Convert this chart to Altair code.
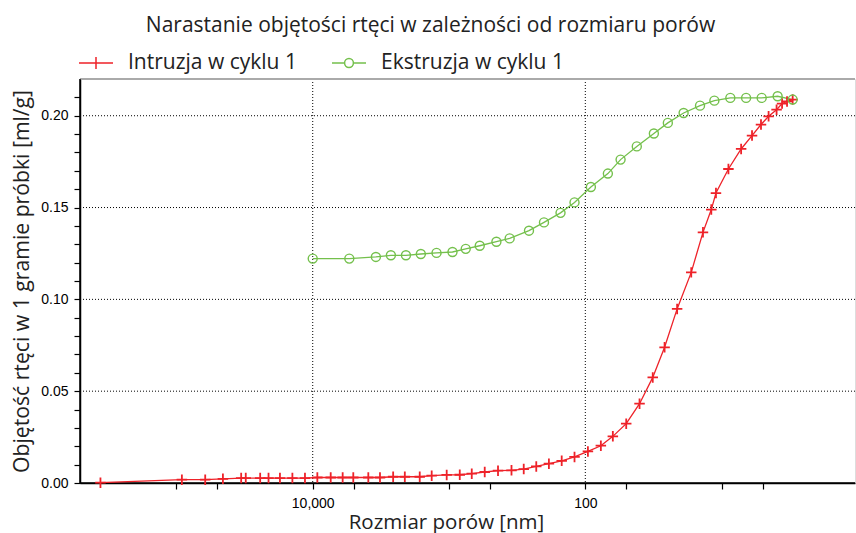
import altair as alt
import pandas as pd

series_names = ["Intruzja w cyklu 1", "Ekstruzja w cyklu 1"]

intr_size = [361000, 91200, 61500, 45600, 33500, 31000, 24300, 21100, 17400, 14100,
             11400, 9250, 7380, 6030, 5040, 3910, 3210, 2570, 2110, 1640,
             1340, 1040, 834, 681, 547, 437, 348, 283, 229, 185,
             149, 120, 95.7, 76.9, 62.8, 50.1, 40.0, 32.0, 26.2, 21.2,
             16.7, 13.7, 11.9, 11.0, 8.91, 7.19, 5.98, 5.14, 4.52, 3.95,
             3.60, 3.31, 3.01]
intr_vol = [0.0002, 0.0018, 0.0018, 0.0023, 0.0027, 0.0027, 0.0027, 0.0027, 0.0027, 0.0027,
            0.0027, 0.0030, 0.0030, 0.0030, 0.0030, 0.0030, 0.0030, 0.0034, 0.0034, 0.0034,
            0.0040, 0.0044, 0.0045, 0.0051, 0.0060, 0.0067, 0.0069, 0.0076, 0.0090, 0.0105,
            0.0121, 0.0142, 0.0172, 0.0203, 0.0254, 0.0323, 0.0432, 0.0575, 0.0739, 0.0948,
            0.1147, 0.1365, 0.1489, 0.1579, 0.1710, 0.1819, 0.1892, 0.1952, 0.1997, 0.2033,
            0.2066, 0.2078, 0.2088]

extr_size = [10000, 5390, 3440, 2670, 2070, 1610, 1235, 943, 754, 595,
             449, 359, 259, 201, 152, 120, 91.0, 68.3, 55.1, 41.9,
             31.4, 24.8, 19.0, 14.4, 11.3, 8.63, 6.61, 5.08, 3.88, 3.01]
extr_vol = [0.1222, 0.1222, 0.1231, 0.1240, 0.1240, 0.1247, 0.1253, 0.1258, 0.1275, 0.1292,
            0.1314, 0.1332, 0.1374, 0.1419, 0.1471, 0.1528, 0.1612, 0.1685, 0.1761, 0.1833,
            0.1903, 0.1961, 0.2015, 0.2055, 0.2082, 0.2097, 0.2097, 0.2097, 0.2106, 0.2088]

x_ticks = [100000, 50000, 10000, 5000, 1000, 500, 100, 50, 10, 5]
y_ticks = [0.00, 0.01, 0.02, 0.03, 0.04, 0.05, 0.06, 0.07, 0.08, 0.09, 0.10,
           0.11, 0.12, 0.13, 0.14, 0.15, 0.16, 0.17, 0.18, 0.19, 0.20, 0.21]
x_grid = [10000, 100]
y_grid = [0.05, 0.10, 0.15, 0.20]
x_range = [1.05, 510000]
y_range = [0.0, 0.22]

df = pd.concat([
    pd.DataFrame({"size": intr_size, "vol": intr_vol, "series": series_names[0]}),
    pd.DataFrame({"size": extr_size, "vol": extr_vol, "series": series_names[1]}),
])
xg_df = pd.DataFrame({"size": x_grid})
yg_df = pd.DataFrame({"vol": y_grid})
left_df = pd.DataFrame({"size": [x_range[1]]})
bottom_df = pd.DataFrame({"vol": [y_range[0]]})
top_df = pd.DataFrame({"vol": [y_range[1]]})

RED = "#ee2229"
GREEN = "#74c04c"
FONT = "Open Sans"

x_scale = alt.Scale(type="log", domain=x_range, reverse=True, nice=False)
y_scale = alt.Scale(domain=y_range, nice=False, zero=True)
color_scale = alt.Scale(domain=series_names, range=[RED, GREEN])

cross_path = "M-1,0L1,0M0,-1L0,1"
leg_cross = "M-1,0L1,0M0,-0.35L0,0.35"
leg_circle = "M-1,0L-0.26,0M0.26,0L1,0M0.26,0A0.26,0.26,0,1,1,-0.26,0A0.26,0.26,0,1,1,0.26,0"

legend = alt.Legend(
    title=None, orient="none", legendX=-2, legendY=-34, direction="horizontal",
    symbolSize=1156, symbolStrokeWidth=1.5, symbolFillColor="transparent",
    labelFont=FONT, labelFontSize=21, labelColor="#222", labelOffset=14,
    columnPadding=32, labelLimit=400, symbolOpacity=1,
)

x_axis = alt.Axis(
    orient="bottom", values=x_ticks,
    labelExpr="datum.value == 10000 ? '10,000' : (datum.value == 100 ? '100' : '')",
    grid=False,
    domainColor="black", domainWidth=1.5, tickColor="black", tickSize=6, tickWidth=1.2,
    labelFont="Liberation Sans", labelFontSize=14, labelColor="black", labelPadding=7,
    labelOverlap=False, labelFlush=False,
    title="Rozmiar porów [nm]", titleFont=FONT, titleFontSize=20.5, titleFontWeight="normal",
    titleColor="#222", titleX=366, titleY=45, titleBaseline="alphabetic", titleAlign="center",
)

y_axis = alt.Axis(
    orient="left", values=y_ticks,
    labelExpr="round(datum.value * 100) % 5 == 0 ? format(datum.value, '.2f') : ''",
    grid=False,
    tickSize=6,
    domainColor="black", domainWidth=1.5, tickColor="black", tickWidth=1.2,
    labelFont="Liberation Sans", labelFontSize=14, labelColor="black", labelPadding=6,
    labelOverlap=False, labelFlush=False,
    title="Objętość rtęci w 1 gramie próbki [ml/g]", titleFont=FONT, titleFontSize=21.2,
    titleFontWeight="normal", titleColor="#222", titlePadding=8,
)

X = alt.X("size:Q", scale=x_scale, axis=x_axis)
Y = alt.Y("vol:Q", scale=y_scale, axis=y_axis)
C = alt.Color("series:N", scale=color_scale, legend=legend)

base = alt.Chart(df)

grid_x = alt.Chart(xg_df).mark_rule(color="black", strokeWidth=1, strokeDash=[1, 2]).encode(x=X)
grid_y = alt.Chart(yg_df).mark_rule(color="black", strokeWidth=1, strokeDash=[1, 2]).encode(y=Y)
frame_top = alt.Chart(top_df).mark_rule(color="#aaaaaa", strokeWidth=2).encode(y=Y)
frame_left = alt.Chart(left_df).mark_rule(color="black", strokeWidth=1.5).encode(x=X)
frame_bottom = alt.Chart(bottom_df).mark_rule(color="black", strokeWidth=1.5).encode(y=Y)

lines = base.mark_line(strokeWidth=1.3, clip=True).encode(x=X, y=Y, color=C)

crosses = base.transform_filter(alt.datum.series == series_names[0]).mark_point(
    shape=cross_path, filled=False, size=110, strokeWidth=1.8, opacity=1
).encode(x=X, y=Y, color=C)

circles = base.transform_filter(alt.datum.series == series_names[1]).mark_point(
    shape="circle", filled=False, size=81, strokeWidth=1.4, opacity=1
).encode(x=X, y=Y, color=C)

legend_layer = base.transform_filter("false").mark_point(filled=False, opacity=1).encode(
    x=X, y=Y, color=C,
    shape=alt.Shape("series:N", scale=alt.Scale(domain=series_names, range=[leg_cross, leg_circle]),
                    legend=legend),
)

chart = alt.layer(grid_x, grid_y, frame_top, frame_left, frame_bottom,
                  lines, crosses, circles, legend_layer).properties(
    width=775, height=404,
    padding={"left": 80, "top": 79, "right": 1, "bottom": 50},
    autosize="none",
    title=alt.Title("Narastanie objętości rtęci w zależności od rozmiaru porów",
                    font=FONT, fontSize=21, fontWeight="normal", color="#222",
                    anchor="middle", dx=-37, offset=9),
).configure_view(stroke=None).configure(background="white")

chart.save("out.html", embed_options={"renderer": "svg", "actions": False})
